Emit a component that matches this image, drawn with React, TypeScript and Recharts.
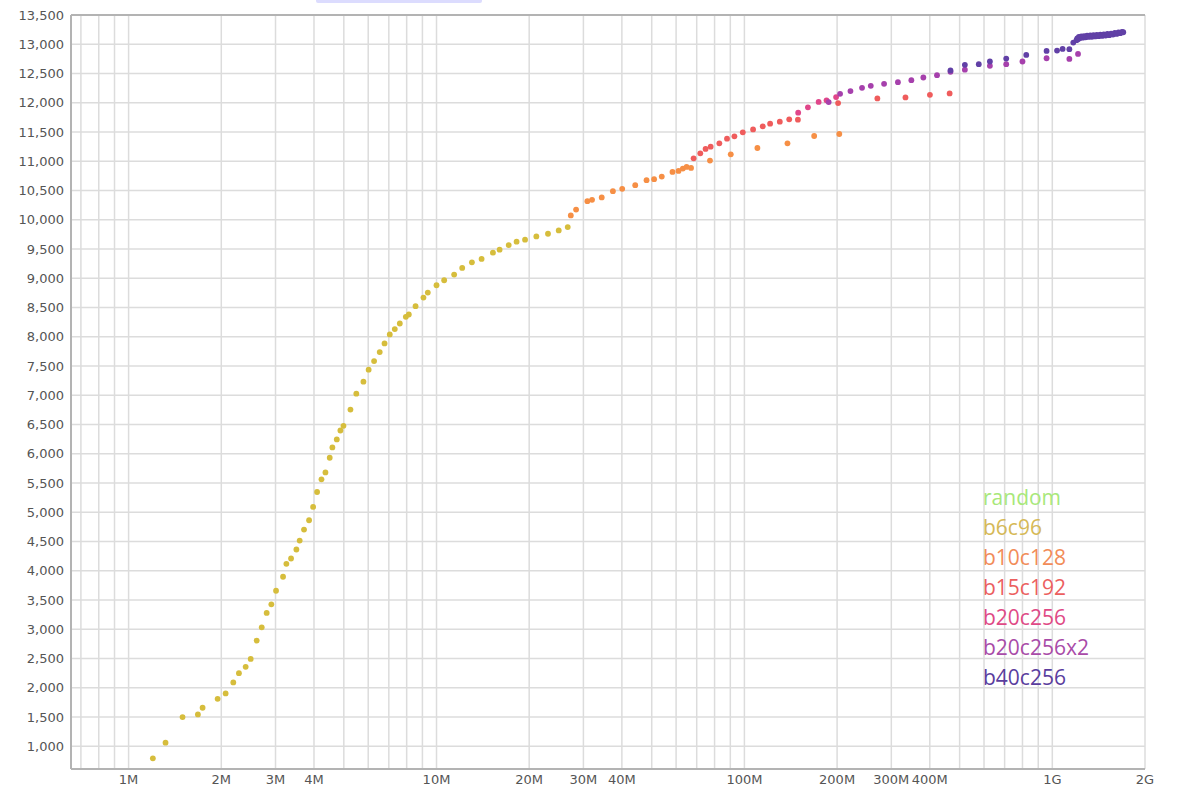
import { ScatterChart, Scatter, XAxis, YAxis, CartesianGrid, ReferenceLine } from "recharts";

type Pt = [number, number];

// x in millions, y = rating
const RANDOM: Pt[] = [];

const B6C96: Pt[] = [
  [1.199, 795], [1.318, 1062], [1.497, 1500], [1.679, 1545], [1.739, 1659], [1.946, 1812],
  [2.066, 1903], [2.188, 2091], [2.282, 2250], [2.4, 2358], [2.492, 2494], [2.606, 2807],
  [2.706, 3034], [2.808, 3279], [2.908, 3426], [3.012, 3659], [3.174, 3898], [3.254, 4119],
  [3.37, 4210], [3.507, 4364], [3.594, 4517], [3.713, 4705], [3.856, 4864], [3.974, 5091],
  [4.094, 5347], [4.23, 5563], [4.358, 5682], [4.5, 5932], [4.59, 6108], [4.744, 6245],
  [4.874, 6398], [4.987, 6477], [5.254, 6756], [5.49, 7028], [5.79, 7233], [6.02, 7438],
  [6.27, 7585], [6.54, 7739], [6.78, 7886], [7.05, 8040], [7.32, 8131], [7.6, 8227],
  [7.95, 8341], [8.13, 8381], [8.55, 8523], [9.07, 8670], [9.37, 8756], [10.0, 8881],
  [10.59, 8966], [11.41, 9063], [12.12, 9176], [13.03, 9273], [14.01, 9330], [15.25, 9438],
  [16.03, 9489], [17.16, 9568], [18.2, 9625], [19.39, 9659], [21.1, 9716], [23.02, 9761],
  [24.94, 9818], [26.68, 9875],
];

const B10C128: Pt[] = [
  [27.3, 10075], [28.4, 10175], [30.9, 10318], [32.0, 10341], [34.4, 10381], [37.4, 10489],
  [40.1, 10528], [44.2, 10591], [48.1, 10676], [50.9, 10693], [53.9, 10739], [58.4, 10818],
  [61.1, 10835], [63.1, 10875], [64.9, 10903], [67.1, 10886], [77.3, 11011], [90.3, 11119],
  [110.2, 11227], [138.0, 11307], [168.5, 11432], [203.3, 11466],
];

const B15C192: Pt[] = [
  [68.4, 11051], [71.9, 11136], [74.8, 11210], [77.7, 11250], [82.9, 11307], [87.8, 11386],
  [92.8, 11426], [98.8, 11494], [106.7, 11545], [114.7, 11597], [121.2, 11642], [130.3, 11676],
  [139.8, 11716], [149.2, 11710], [201.5, 11994], [270.3, 12074], [333.5, 12091], [400.4, 12136],
  [464, 12159],
];

const B20C256: Pt[] = [
  [149.5, 11830], [160.8, 11922], [174.2, 12014], [184.8, 12042], [198.5, 12097],
];

const B20C256X2: Pt[] = [
  [187.8, 12011], [204.5, 12153], [221, 12199], [241, 12256], [257.3, 12290], [284.2, 12324],
  [315.2, 12352], [348.5, 12386], [381.2, 12432], [422.2, 12472], [467, 12528], [520, 12565],
  [627, 12631], [708.5, 12659], [800, 12705], [958, 12761], [1136, 12750], [1212, 12835],
];

const B40C256: Pt[] = [
  [467, 12552], [520, 12648], [577, 12659], [627, 12705], [708.5, 12756], [823, 12818],
  [958, 12886], [1036, 12892], [1080, 12920], [1136, 12915], [1170, 13028], [1198, 13070],
  [1205, 13100], [1212, 13085], [1220, 13125], [1230, 13105], [1242, 13135], [1255, 13112],
  [1268, 13140], [1282, 13118], [1297, 13146], [1312, 13125], [1328, 13150], [1344, 13128],
  [1360, 13155], [1377, 13133], [1395, 13160], [1413, 13138], [1432, 13165], [1451, 13143],
  [1470, 13170], [1490, 13150], [1510, 13176], [1531, 13156], [1552, 13183], [1574, 13165],
  [1596, 13192], [1618, 13176], [1640, 13203], [1662, 13190], [1684, 13212], [1700, 13205],
];

const SERIES = [
  { name: "random", points: RANDOM, color: "#a8e87a" },
  { name: "b6c96", points: B6C96, color: "#d6bd3c", text: "#d6b956" },
  { name: "b10c128", points: B10C128, color: "#f68f45", text: "#f28c58" },
  { name: "b15c192", points: B15C192, color: "#ef5c5c", text: "#ec5f5f" },
  { name: "b20c256", points: B20C256, color: "#e0468a", text: "#df4a86" },
  { name: "b20c256x2", points: B20C256X2, color: "#a640ac", text: "#a94ba8" },
  { name: "b40c256", points: B40C256, color: "#6140a6", text: "#5a3d9e" },
];

const X_GRID = [
  0.7, 0.8, 0.9, 1, 2, 3, 4, 5, 6, 7, 8, 9, 10, 20, 30, 40, 50, 60, 70, 80, 90,
  100, 200, 300, 400, 500, 600, 700, 800, 900, 1000, 2000,
];
const X_LABELED = [1, 2, 3, 4, 10, 20, 30, 40, 100, 200, 300, 400, 1000, 2000];
const Y_TICKS = [
  1000, 1500, 2000, 2500, 3000, 3500, 4000, 4500, 5000, 5500, 6000, 6500, 7000,
  7500, 8000, 8500, 9000, 9500, 10000, 10500, 11000, 11500, 12000, 12500, 13000, 13500,
];

const fmtX = (v: number) =>
  X_LABELED.includes(v) ? (v >= 1000 ? `${v / 1000}G` : `${v}M`) : "";
const fmtY = (v: number) => v.toLocaleString("en-US");

const axisStyle = { stroke: "#b3b3b3", strokeWidth: 2 };
const tickStyle = { fontSize: 13, fill: "#555", fontFamily: "DejaVu Sans" };

export default function App() {
  return (
    <div style={{ position: "absolute", left: 0, top: 0, width: 1179, height: 801, background: "#fff" }}>
      <div
        style={{
          position: "absolute",
          left: 316,
          top: 0,
          width: 166,
          height: 3,
          background: "#dcdcfe",
          borderRadius: "0 0 2px 2px",
        }}
      />
      <ScatterChart width={1179} height={801} margin={{ top: 15, right: 34, bottom: 2, left: 0 }}>
        <CartesianGrid stroke="#dcdcdc" strokeWidth={1.5} />
        <XAxis
          type="number"
          dataKey="x"
          scale="log"
          domain={[0.65, 2000]}
          allowDataOverflow
          ticks={X_GRID}
          interval={0}
          tickFormatter={fmtX}
          tick={tickStyle}
          tickLine={false}
          tickSize={4}
          tickMargin={2}
          axisLine={axisStyle}
          height={30}
        />
        <YAxis
          type="number"
          dataKey="y"
          domain={[612, 13500]}
          allowDataOverflow
          ticks={Y_TICKS}
          interval={0}
          tickFormatter={fmtY}
          tick={tickStyle}
          tickLine={false}
          tickSize={5}
          tickMargin={2}
          axisLine={axisStyle}
          width={71}
        />
        <ReferenceLine y={13500} stroke="#b3b3b3" strokeWidth={2} />
        {SERIES.map((s) => (
          <Scatter
            key={s.name}
            name={s.name}
            data={s.points.map(([x, y]) => ({ x, y }))}
            fill={s.color}
            isAnimationActive={false}
            shape={(p: any) => <circle cx={p.cx} cy={p.cy} r={2.9} fill={s.color} />}
          />
        ))}
      </ScatterChart>
      <div
        style={{
          position: "absolute",
          left: 983,
          top: 482,
          fontFamily: "Open Sans",
          fontSize: 21,
          lineHeight: "30px",
          whiteSpace: "nowrap",
        }}
      >
        {SERIES.map((s) => (
          <div key={s.name} style={{ color: s.text ?? s.color }}>
            {s.name}
          </div>
        ))}
      </div>
    </div>
  );
}
